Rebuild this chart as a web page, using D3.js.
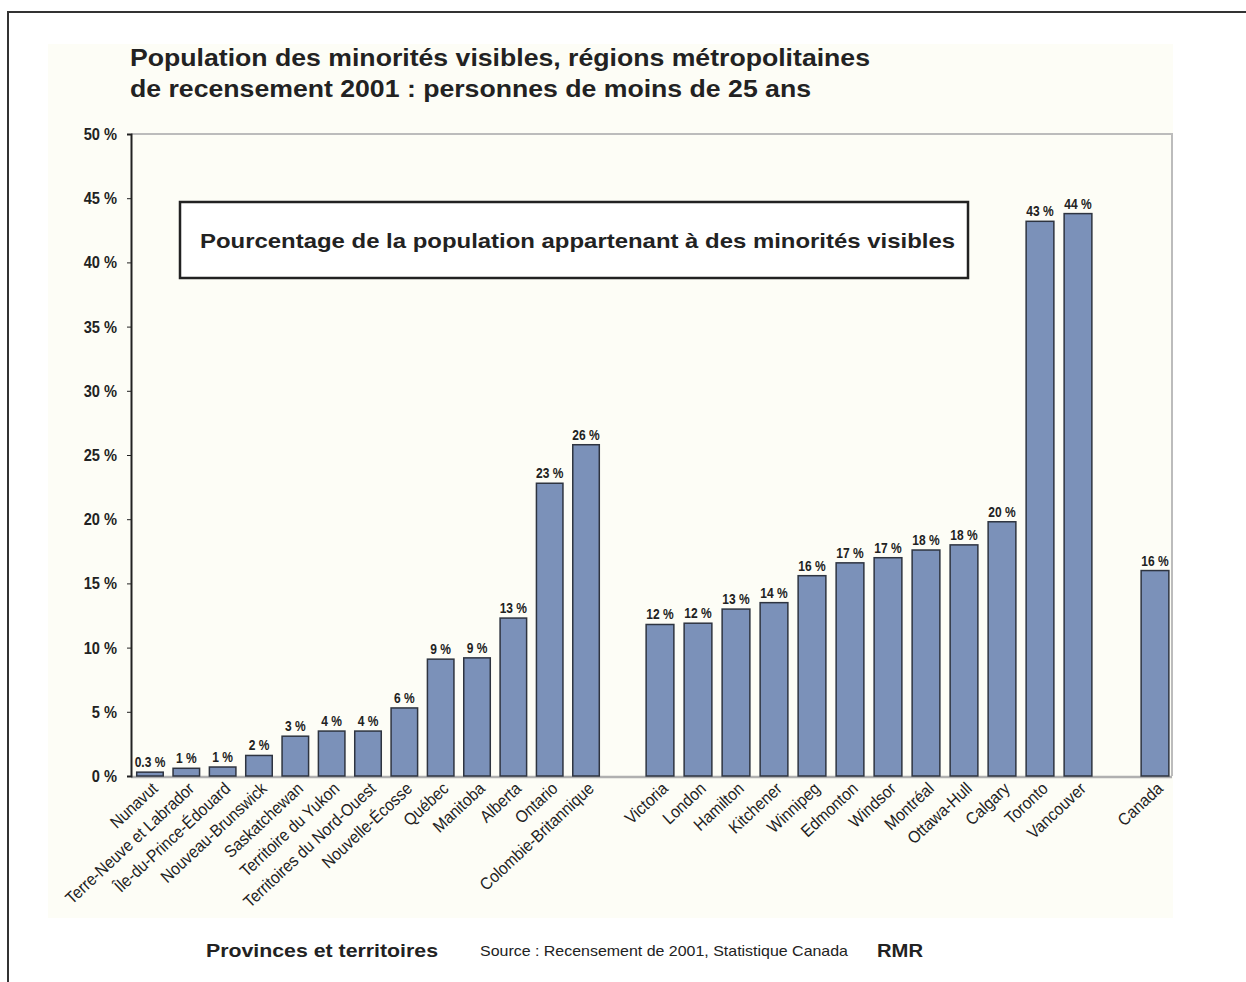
<!DOCTYPE html>
<html>
<head>
<meta charset="utf-8">
<script src="https://cdn.jsdelivr.net/npm/d3@7"></script>
<style>
	body { margin: 0; background: #fff; }
	svg { display: block; font-family: "Liberation Sans", Arial, sans-serif; }
</style>
</head>
<body>
<svg id="chart" width="1246" height="982"></svg>
<script>
// provinces et territoires
var provinces = ["Nunavut", "Terre-Neuve et Labrador", "Île-du-Prince-Édouard", "Nouveau-Brunswick",
	"Saskatchewan", "Territoire du Yukon", "Territoires du Nord-Ouest", "Nouvelle-Écosse",
	"Québec", "Manitoba", "Alberta", "Ontario", "Colombie-Britannique"];
var provinceValues = [0.3, 0.6, 0.7, 1.6, 3.1, 3.5, 3.5, 5.3, 9.1, 9.2, 12.3, 22.8, 25.8];
var provinceLabels = ["0.3 %", "1 %", "1 %", "2 %", "3 %", "4 %", "4 %", "6 %", "9 %", "9 %", "13 %", "23 %", "26 %"];

// régions métropolitaines de recensement
var cities = ["Victoria", "London", "Hamilton", "Kitchener", "Winnipeg", "Edmonton", "Windsor",
	"Montréal", "Ottawa-Hull", "Calgary", "Toronto", "Vancouver"];
var cityValues = [11.8, 11.9, 13.0, 13.5, 15.6, 16.6, 17.0, 17.6, 18.0, 19.8, 43.2, 43.8];
var cityLabels = ["12 %", "12 %", "13 %", "14 %", "16 %", "17 %", "17 %", "18 %", "18 %", "20 %", "43 %", "44 %"];

var national = ["Canada"];
var nationalValues = [16.0];
var nationalLabels = ["16 %"];

var yTicks = [0, 5, 10, 15, 20, 25, 30, 35, 40, 45, 50];

var svg = d3.select("#chart");

var plot = { left: 131, right: 1172, top: 134, bottom: 776 };

var y = d3.scaleLinear().domain([0, 50]).range([plot.bottom, plot.top]);

var xProv = d3.scaleBand().domain(provinces).range([131.8, 604.2]).paddingInner(0.27).paddingOuter(0.135);
var xCity = d3.scaleBand().domain(cities).range([641, 1097]).paddingInner(0.27).paddingOuter(0.135);
var xNat = d3.scaleBand().domain(national).range([1136, 1174]).paddingInner(0.27).paddingOuter(0.135);

// texte un peu étroit, comme dans l'original
function condense(selection, ratio) {
	selection.each(function() {
		var w = this.getComputedTextLength();
		d3.select(this).attr("textLength", w * ratio).attr("lengthAdjust", "spacingAndGlyphs");
	});
}

// fond crème
svg.append("rect")
	.attr("x", 48).attr("y", 44)
	.attr("width", 1125).attr("height", 874)
	.style("fill", "#fdfdf6");

// cadre extérieur
svg.append("path")
	.attr("d", "M8,990 L8,12 L1260,12")
	.style("fill", "none")
	.style("stroke", "#333")
	.style("stroke-width", 2);

// titre
var title = svg.append("g").style("font-weight", "bold").style("fill", "#222").style("font-size", "23.5px");
title.append("text").attr("x", 130).attr("y", 66)
	.attr("textLength", 740).attr("lengthAdjust", "spacingAndGlyphs")
	.text("Population des minorités visibles, régions métropolitaines");
title.append("text").attr("x", 130).attr("y", 97)
	.attr("textLength", 681).attr("lengthAdjust", "spacingAndGlyphs")
	.text("de recensement 2001 : personnes de moins de 25 ans");

// bordures de la zone de tracé
svg.append("path")
	.attr("d", "M" + plot.left + "," + plot.top + " L" + plot.right + "," + plot.top + " L" + plot.right + "," + plot.bottom)
	.style("fill", "none")
	.style("stroke", "#bcbcbc")
	.style("stroke-width", 2);
svg.append("line")
	.attr("x1", plot.left).attr("x2", plot.right)
	.attr("y1", plot.bottom + 1).attr("y2", plot.bottom + 1)
	.style("stroke", "#b0b0b0")
	.style("stroke-width", 2.5);

// axe des y
var yAxis = d3.axisLeft(y).tickValues(yTicks).tickSize(4).tickPadding(10)
	.tickFormat(function(d) { return d + " %"; });
var yAxisG = svg.append("g")
	.attr("transform", "translate(" + plot.left + ",0)")
	.call(yAxis);
yAxisG.select(".domain").style("stroke", "#222").style("stroke-width", 2);
yAxisG.selectAll(".tick line").style("stroke", "#222");
yAxisG.selectAll(".tick text")
	.style("font-family", "\"Liberation Sans\", Arial, sans-serif")
	.style("font-size", "17px")
	.style("font-weight", "bold")
	.style("fill", "#222")
	.call(condense, 0.86);

// boîte de légende
svg.append("rect")
	.attr("x", 180).attr("y", 202)
	.attr("width", 788).attr("height", 76)
	.style("fill", "#fff")
	.style("stroke", "#222")
	.style("stroke-width", 2.5);
svg.append("text")
	.attr("x", 200).attr("y", 248)
	.attr("textLength", 755).attr("lengthAdjust", "spacingAndGlyphs")
	.style("font-size", "21px")
	.style("font-weight", "bold")
	.style("fill", "#222")
	.text("Pourcentage de la population appartenant à des minorités visibles");

function drawGroup(names, values, labels, x, cls) {
	var data = names.map(function(n, i) { return { name: n, value: values[i], label: labels[i] }; });
	var g = svg.append("g").attr("class", cls);

	g.selectAll("rect.bar")
		.data(data)
		.enter().append("rect")
		.attr("class", "bar")
		.attr("x", function(d) { return x(d.name); })
		.attr("y", function(d) { return y(d.value); })
		.attr("width", x.bandwidth())
		.attr("height", function(d) { return y(0) - y(d.value); })
		.style("fill", "#7b91b9")
		.style("stroke", "#2e3440")
		.style("stroke-width", 1.5);

	g.selectAll("text.value")
		.data(data)
		.enter().append("text")
		.attr("class", "value")
		.attr("x", function(d) { return x(d.name) + x.bandwidth() / 2; })
		.attr("y", function(d) { return y(d.value) - 5; })
		.style("text-anchor", "middle")
		.style("font-size", "15px")
		.style("font-weight", "bold")
		.style("fill", "#222")
		.text(function(d) { return d.label; })
		.call(condense, 0.8);

	g.selectAll("text.name")
		.data(data)
		.enter().append("text")
		.attr("class", "name")
		.attr("transform", function(d) {
			var cx = x(d.name) + x.bandwidth() / 2 + 9;
			return "translate(" + cx + "," + (plot.bottom + 14) + ") rotate(-43)";
		})
		.style("text-anchor", "end")
		.style("font-size", "17px")
		.style("fill", "#222")
		.text(function(d) { return d.name; })
		.call(condense, 0.91);
}

drawGroup(provinces, provinceValues, provinceLabels, xProv, "provinces");
drawGroup(cities, cityValues, cityLabels, xCity, "cities");
drawGroup(national, nationalValues, nationalLabels, xNat, "national");

// légendes du bas
svg.append("text")
	.attr("x", 206).attr("y", 957)
	.attr("textLength", 232).attr("lengthAdjust", "spacingAndGlyphs")
	.style("font-size", "19px").style("font-weight", "bold").style("fill", "#222")
	.text("Provinces et territoires");
svg.append("text")
	.attr("x", 480).attr("y", 956)
	.attr("textLength", 368).attr("lengthAdjust", "spacingAndGlyphs")
	.style("font-size", "14.5px").style("fill", "#222")
	.text("Source : Recensement de 2001, Statistique Canada");
svg.append("text")
	.attr("x", 877).attr("y", 957)
	.attr("textLength", 46).attr("lengthAdjust", "spacingAndGlyphs")
	.style("font-size", "19px").style("font-weight", "bold").style("fill", "#222")
	.text("RMR");
</script>
</body>
</html>
